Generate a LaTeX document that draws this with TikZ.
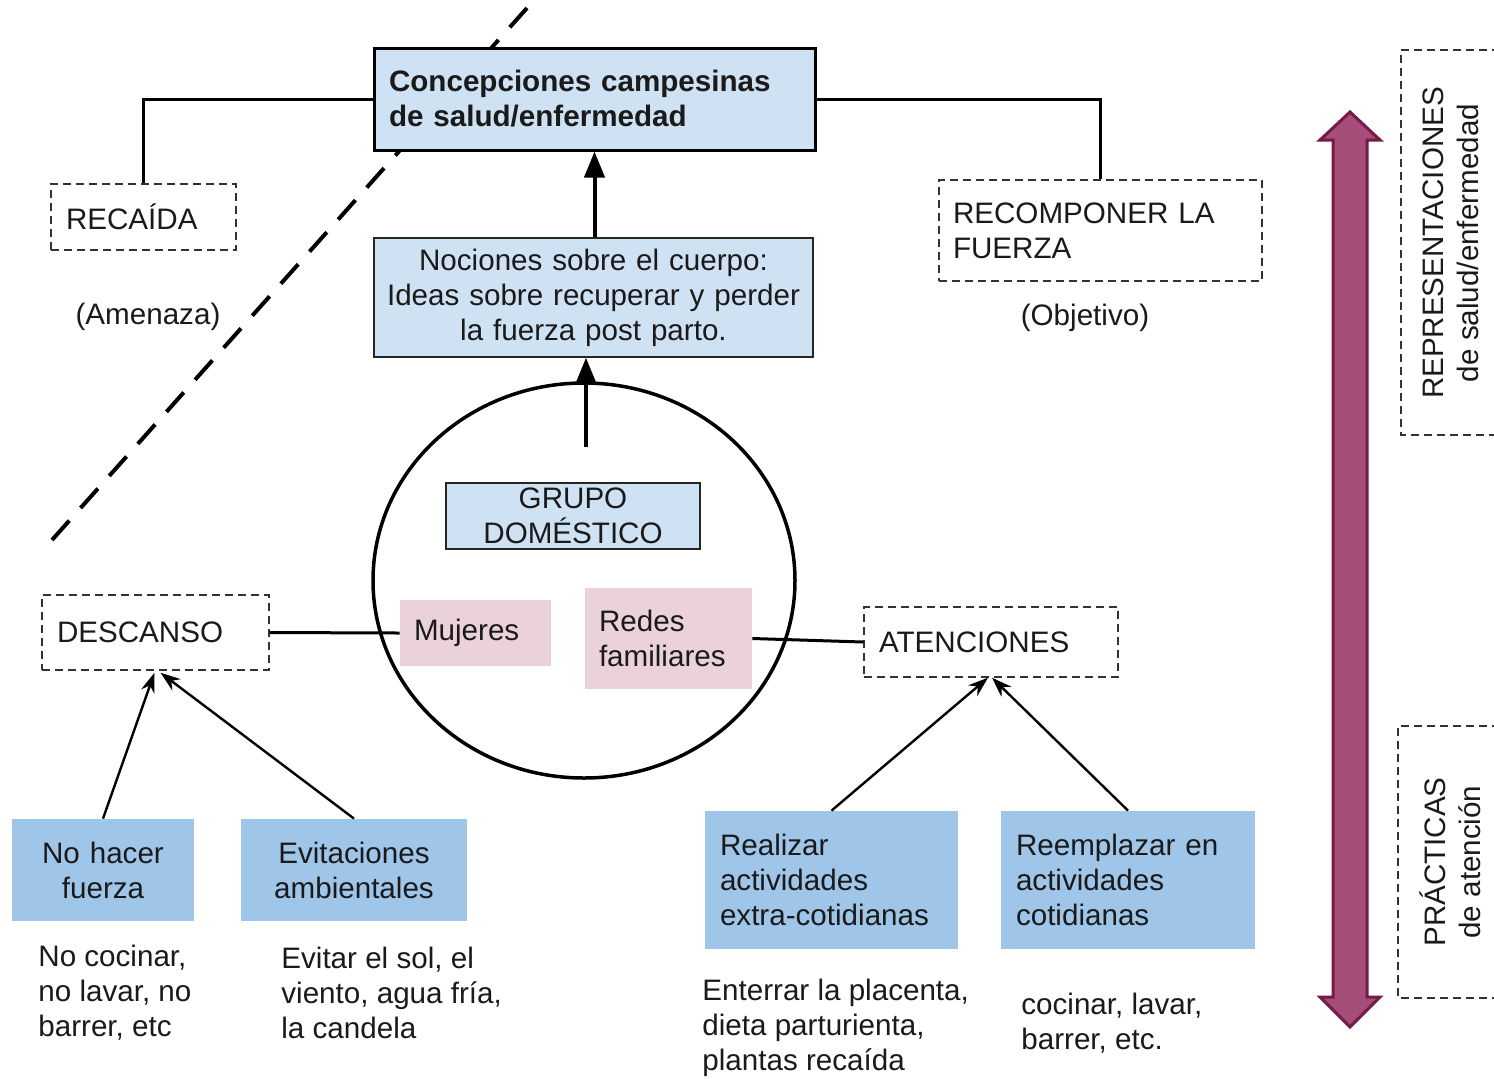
\documentclass[tikz,border=0pt]{standalone}
\usepackage{fontspec}
\setmainfont{Liberation Sans}
\usetikzlibrary{arrows.meta,shapes.geometric}
\definecolor{lightblue}{HTML}{CFE2F3}
\definecolor{midblue}{HTML}{9FC5E8}
\definecolor{pinkbox}{HTML}{EAD1DC}
\definecolor{purp}{HTML}{A64D79}
\definecolor{purpdark}{HTML}{741B47}
\definecolor{txt}{HTML}{1A1A1A}
\tikzset{
  base/.style={font=\fontsize{14.8pt}{17.5pt}\selectfont, text=txt, inner ysep=0pt, inner xsep=7.5pt},
  topbox/.style={base, draw=black, line width=1.5pt, fill=lightblue, align=left, font=\fontsize{14.8pt}{17.5pt}\selectfont\bfseries},
  lbbox/.style={base, draw=black!85, line width=0.6pt, fill=lightblue},
  dbox/.style={base, draw=black!80, line width=0.7pt, dash pattern=on 4pt off 2.5pt, fill=white, align=left},
  pbox/.style={base, fill=pinkbox, align=left},
  mbbox/.style={base, fill=midblue},
  plain/.style={base, inner xsep=0pt, align=left},
  conn/.style={line width=1.5pt, black},
  bigarrow/.style={line width=2pt, black, -{Triangle[length=13pt, width=10pt]}},
  thinarrow/.style={line width=1.2pt, black, -{Stealth[length=10pt, width=7pt]}},
  sidebox/.style={draw=black!80, line width=0.7pt, dash pattern=on 4pt off 2.5pt},
}
\begin{document}
\begin{tikzpicture}[x=0.5pt,y=-0.5pt]
\useasboundingbox (0,0) rectangle (1494,1078);
\fill[white] (0,0) rectangle (1494,1078);

% diagonal dashed separator
\coordinate (d1) at (527,8);
\coordinate (d2) at (52,540);
\draw[line width=2pt, dash pattern=on 13pt off 8.48pt] (d2) -- (d1);

% top
\node[topbox, text width=205.5pt, minimum height=51pt] (top) at (594.5,99) {Concepciones campesinas\\de salud/enfermedad};
\node[dbox, text width=77.5pt, minimum height=33pt] (recaida) at (143.5,217) {RECAÍDA};
\node[dbox, text width=147.5pt, inner xsep=7pt, minimum height=50.5pt] (recomponer) at (1100.5,230.5) {RECOMPONER LA\\FUERZA};
\node[plain] (amenaza) at (148,317) {(Amenaza)};
\node[plain] (objetivo) at (1085,318) {(Objetivo)};
\node[lbbox, text width=215pt, align=center, inner xsep=2.25pt, minimum height=59.5pt] (nociones) at (593.5,297.5) {Nociones sobre el cuerpo:\\Ideas sobre recuperar y perder\\la fuerza post parto.};

\draw[conn] (top.west) -| (recaida.north);
\draw[conn] (top.east) -| (recomponer.north);
\draw[bigarrow] (nociones.north -| top.south) -- (top.south);

% circle
\node[draw=black, line width=1.75pt, ellipse, minimum width=211pt, minimum height=197.5pt, inner sep=0pt] (circ) at (584,580.5) {};
\coordinate (cs) at (586,447);
\draw[bigarrow] (cs) -- (cs |- nociones.south);

\node[lbbox, line width=0.8pt, text width=112pt, align=center, minimum height=33pt] (grupo) at (573,516) {GRUPO\\DOMÉSTICO};
\node[pbox, text width=61.5pt, inner xsep=7pt, minimum height=33pt] (mujeres) at (475.5,633) {Mujeres};
\node[pbox, text width=69.5pt, inner xsep=7pt, minimum height=50.5pt] (redes) at (668.5,638.5) {Redes\\familiares};

% side boxes
\node[dbox, text width=98.5pt, minimum height=37.5pt] (descanso) at (155.5,632.5) {DESCANSO};
\node[dbox, text width=112pt, minimum height=35pt] (atenciones) at (991,642) {ATENCIONES};
\draw[conn] (descanso.east) -- (mujeres.west);
\draw[conn] (redes.east) -- (atenciones.west);

% bottom boxes
\node[mbbox, text width=91pt, inner xsep=0pt, align=center, minimum height=51pt] (nohacer) at (103,870) {No hacer\\fuerza};
\node[mbbox, text width=113pt, inner xsep=0pt, align=center, minimum height=51pt] (evit) at (354,870) {Evitaciones\\ambientales};
\node[mbbox, text width=111.5pt, align=left, minimum height=69pt] (realizar) at (831.5,880) {Realizar\\actividades\\extra-cotidianas};
\node[mbbox, text width=112pt, align=left, minimum height=69pt] (reemplazar) at (1128,880) {Reemplazar en\\actividades\\cotidianas};

\draw[thinarrow] (nohacer.north) -- ([xshift=-0.5pt,yshift=-1pt]descanso.south);
\draw[thinarrow] (evit.north) -- ([xshift=2.5pt,yshift=-1pt]descanso.south);
\draw[thinarrow] (realizar.north) -- ([xshift=-1.5pt]atenciones.south);
\draw[thinarrow] (reemplazar.north) -- ([xshift=0.5pt]atenciones.south);

% texts under boxes
\node[plain, anchor=west] (t1) at (38,993) {No cocinar,\\no lavar, no\\barrer, etc};
\node[plain, anchor=west] (t2) at (281,993) {Evitar el sol, el\\viento, agua fría,\\la candela};
\node[plain, anchor=west] (t3) at (702,1028) {Enterrar la placenta,\\dieta parturienta,\\plantas recaída};
\node[plain, anchor=west] (t4) at (1021,1023) {cocinar, lavar,\\barrer, etc.};

% purple double arrow
\draw[fill=purp, draw=purpdark, line width=1.5pt, line join=miter]
  (1350,112) -- (1380,140) -- (1367,140) -- (1367,997) -- (1380,997) -- (1350,1027)
  -- (1320,997) -- (1333,997) -- (1333,140) -- (1320,140) -- cycle;

% right labels
\draw[sidebox] (1500,50) -- (1401,50) -- (1401,435) -- (1500,435);
\node[plain, align=center, rotate=90] (repr) at (1451,243) {REPRESENTACIONES\\de salud/enfermedad};
\draw[sidebox] (1500,726) -- (1398,726) -- (1398,998) -- (1500,998);
\node[plain, align=center, rotate=90] (prac) at (1450,862) {PRÁCTICAS\\de atención};
\end{tikzpicture}
\end{document}
